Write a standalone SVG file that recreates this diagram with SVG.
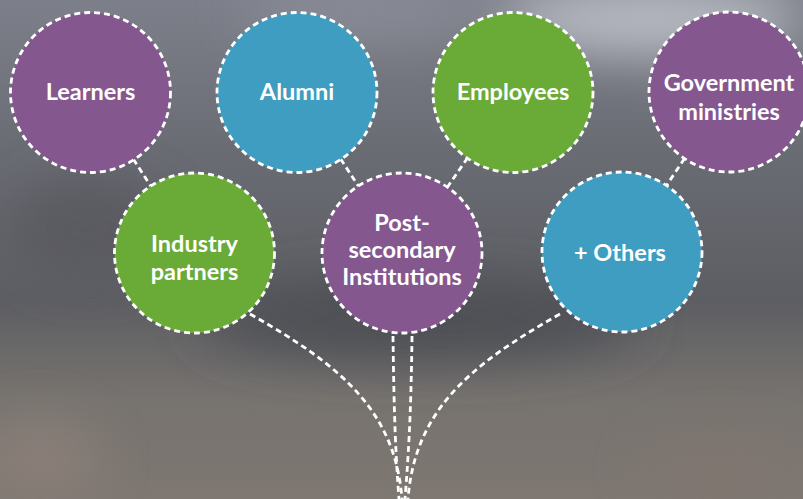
<svg xmlns="http://www.w3.org/2000/svg" width="803" height="499" viewBox="0 0 803 499">
  <defs>
    <linearGradient id="bg" x1="0" y1="0" x2="0" y2="1">
      <stop offset="0" stop-color="#7d808a"/>
      <stop offset="0.3" stop-color="#6a6c74"/>
      <stop offset="0.6" stop-color="#5d5e63"/>
      <stop offset="0.8" stop-color="#77736f"/>
      <stop offset="1" stop-color="#7e7772"/>
    </linearGradient>
    <filter id="blur" x="-50%" y="-50%" width="200%" height="200%">
      <feGaussianBlur stdDeviation="25"/>
    </filter>
    <style>
      .node circle { stroke: #ffffff; stroke-width: 2.8; stroke-dasharray: 6 4; }
      .purple { fill: #85578f; }
      .blue { fill: #3e9dc0; }
      .green { fill: #6aaa37; }
      .lbl { font-family: Lato, "Liberation Sans", sans-serif; font-weight: 700; font-size: 23.5px; fill: #ffffff; text-anchor: middle; }
      .conn { fill: none; stroke: #ffffff; stroke-width: 2.8; stroke-dasharray: 6 4; }
    </style>
  </defs>

  <!-- blurred photo background -->
  <rect width="803" height="499" fill="url(#bg)"/>
  <g filter="url(#blur)">
    <ellipse cx="650" cy="20" rx="150" ry="35" fill="#b8bbc2"/>
    <ellipse cx="360" cy="10" rx="120" ry="25" fill="#8a8d97"/>
    <ellipse cx="420" cy="320" rx="220" ry="40" fill="#4e5055"/>
    <ellipse cx="90" cy="230" rx="80" ry="50" fill="#5a5a60"/>
    <ellipse cx="40" cy="460" rx="60" ry="40" fill="#8a7f78"/>
    <ellipse cx="720" cy="470" rx="80" ry="30" fill="#807670"/>
  </g>

  <g id="connectors">
    <line class="conn" x1="90" y1="92" x2="194" y2="253"/>
    <line class="conn" x1="297" y1="92" x2="402" y2="253"/>
    <line class="conn" x1="513" y1="92" x2="402" y2="253"/>
    <line class="conn" x1="729" y1="92" x2="622" y2="252"/>
    <path class="conn" d="M250,314 C340,365 395,410 402,499"/>
    <path class="conn" d="M560,314 C470,365 415,410 408,499"/>
    <path class="conn" d="M393,336 C394,420 396,460 399,499"/>
    <path class="conn" d="M412,336 C411,420 408,460 405,499"/>
  </g>

  <g id="learners" class="node">
    <circle class="purple" cx="90.5" cy="92.5" r="80"/>
    <text class="lbl" x="90.5" y="100">Learners</text>
  </g>
  <g id="alumni" class="node">
    <circle class="blue" cx="297" cy="92.5" r="80"/>
    <text class="lbl" x="297" y="100">Alumni</text>
  </g>
  <g id="employees" class="node">
    <circle class="green" cx="513" cy="92.5" r="80"/>
    <text class="lbl" x="513" y="100">Employees</text>
  </g>
  <g id="government" class="node">
    <circle class="purple" cx="729" cy="92" r="80"/>
    <text class="lbl" x="729" y="91">Government</text>
    <text class="lbl" x="729" y="120">ministries</text>
  </g>
  <g id="industry" class="node">
    <circle class="green" cx="194.5" cy="253" r="80"/>
    <text class="lbl" x="194.5" y="252">Industry</text>
    <text class="lbl" x="194.5" y="280">partners</text>
  </g>
  <g id="postsecondary" class="node">
    <circle class="purple" cx="402" cy="253" r="80"/>
    <text class="lbl" x="402" y="231">Post-</text>
    <text class="lbl" x="402" y="258">secondary</text>
    <text class="lbl" x="402" y="285">Institutions</text>
  </g>
  <g id="others" class="node">
    <circle class="blue" cx="622" cy="252" r="80"/>
    <text class="lbl" x="620" y="261">+ Others</text>
  </g>
</svg>
